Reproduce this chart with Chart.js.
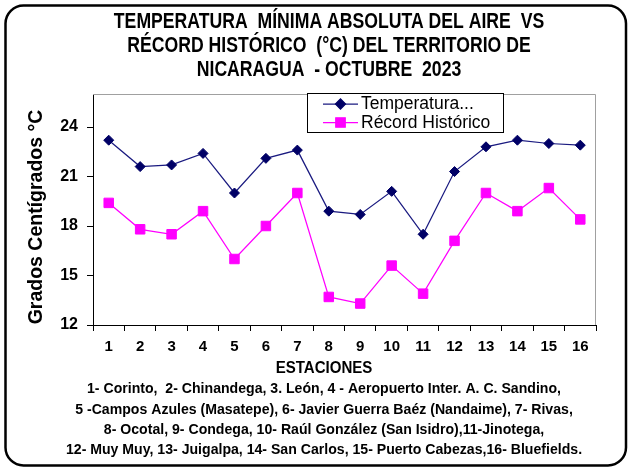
<!DOCTYPE html>
<html>
<head>
<meta charset="utf-8">
<script src="https://cdn.jsdelivr.net/npm/chart.js@4.4.0/dist/chart.umd.min.js"></script>
<style>
  body { margin: 0; background: #fff; }
  canvas { display: block; }
</style>
</head>
<body>
<canvas id="myChart" width="631" height="468"></canvas>
<script>
var estaciones = ["1", "2", "3", "4", "5", "6", "7", "8", "9", "10", "11", "12", "13", "14", "15", "16"];
var temperatura = [23.2, 21.6, 21.7, 22.4, 20.0, 22.1, 22.6, 18.9, 18.7, 20.1, 17.5, 21.3, 22.8, 23.2, 23.0, 22.9];
var record = [19.4, 17.8, 17.5, 18.9, 16.0, 18.0, 20.0, 13.7, 13.3, 15.6, 13.9, 17.1, 20.0, 18.9, 20.3, 18.4];
var yTicks = [12, 15, 18, 21, 24];

var titulo = [
  "TEMPERATURA  MÍNIMA ABSOLUTA DEL AIRE  VS",
  "RÉCORD HISTÓRICO  (°C) DEL TERRITORIO DE",
  "NICARAGUA  - OCTUBRE  2023"
];
var ejeX = "ESTACIONES";
var ejeY = "Grados Centígrados °C";
var notas = [
  "1- Corinto,  2- Chinandega, 3. León, 4 - Aeropuerto Inter. A. C. Sandino,",
  "5 -Campos Azules (Masatepe), 6- Javier Guerra Baéz (Nandaime), 7- Rivas,",
  "8- Ocotal, 9- Condega, 10- Raúl González (San Isidro),11-Jinotega,",
  "12- Muy Muy, 13- Juigalpa, 14- San Carlos, 15- Puerto Cabezas,16- Bluefields."
];

var ctx = document.getElementById("myChart");

// is there a narrow face? if not squeeze the regular one
var probe = ctx.getContext("2d");
probe.font = 'bold 20px "Liberation Sans Narrow", "Liberation Sans"';
var wNarrow = probe.measureText("TEMPERATURA").width;
probe.font = 'bold 20px "Liberation Sans"';
var wRegular = probe.measureText("TEMPERATURA").width;
var hasNarrow = wNarrow < wRegular * 0.95;
var narrowFam = hasNarrow ? '"Liberation Sans Narrow", "Liberation Sans", Arial' : '"Liberation Sans", Arial';
var squeeze = hasNarrow ? 1 : 0.82;
var squeeze2 = hasNarrow ? 1.1 : 0.94;

function texto(c, s, x, y, font, sq) {
  c.save();
  c.font = font;
  c.translate(x, y);
  c.scale(sq, 1);
  c.fillText(s, 0, 0);
  c.restore();
}

var marco = {
  id: "marco",
  beforeDraw: function (chart) {
    var c = chart.ctx;
    c.save();
    c.fillStyle = "#fff";
    c.fillRect(0, 0, chart.width, chart.height);
    c.strokeStyle = "#000";
    c.lineWidth = 2.5;
    c.beginPath();
    c.roundRect(5.5, 5.5, 620.5, 460, 18);
    c.stroke();
    c.restore();
  },
  beforeDatasetsDraw: function (chart) {
    var a = chart.chartArea, c = chart.ctx;
    c.save();
    c.strokeStyle = "#a0a0a0";
    c.lineWidth = 1;
    c.beginPath();
    c.moveTo(a.left, a.top + 0.5);
    c.lineTo(a.right - 0.5, a.top + 0.5);
    c.lineTo(a.right - 0.5, a.bottom);
    c.stroke();
    c.restore();
  },
  afterDraw: function (chart) {
    var c = chart.ctx;
    c.save();
    c.fillStyle = "#000";
    c.textAlign = "center";
    c.textBaseline = "middle";

    // title
    var ty = [22, 46.5, 70.5];
    titulo.forEach(function (s, i) {
      texto(c, s, 329, ty[i], "bold 21.5px " + narrowFam, squeeze);
    });

    // axis titles
    texto(c, ejeX, 324, 369, "bold 16px " + narrowFam, squeeze2);
    c.save();
    c.translate(37, 217);
    c.rotate(-Math.PI / 2);
    c.font = 'bold 19.5px "Liberation Sans", Arial';
    c.fillText(ejeY, 0, 0);
    c.restore();

    // station list
    var ny = [389, 409.5, 430, 450];
    notas.forEach(function (s, i) {
      texto(c, s, 324, ny[i], "bold 15px " + narrowFam, squeeze2);
    });

    // legend
    var lx = 307.5, ly = 93.5, lw = 196, lh = 39;
    c.fillStyle = "#fff";
    c.fillRect(lx, ly, lw, lh);
    c.strokeStyle = "#000";
    c.lineWidth = 1;
    c.strokeRect(lx, ly, lw, lh);
    var rows = [104, 122.5];
    c.textAlign = "left";
    chart.data.datasets.forEach(function (ds, i) {
      var y = rows[i];
      c.strokeStyle = ds.borderColor;
      c.lineWidth = ds.borderWidth;
      c.beginPath();
      c.moveTo(323, y);
      c.lineTo(358, y);
      c.stroke();
      c.fillStyle = ds.pointBackgroundColor;
      c.strokeStyle = ds.pointBorderColor;
      Chart.helpers.drawPoint(c, {
        pointStyle: ds.pointStyle,
        rotation: 0,
        radius: ds.pointRadius,
        borderWidth: 1
      }, 340.5, y);
      c.fillStyle = "#000";
      c.font = '17.5px "Liberation Sans", Arial';
      c.fillText(ds.label, 361, y + 0.5);
    });
    c.restore();
  }
};

var myChart = new Chart(ctx, {
  type: "line",
  data: {
    labels: estaciones,
    datasets: [{
      label: "Temperatura...",
      data: temperatura,
      borderColor: "#1a1a80",
      backgroundColor: "#000066",
      borderWidth: 1.25,
      pointStyle: "rectRot",
      pointRadius: 5,
      pointBackgroundColor: "#000066",
      pointBorderColor: "#000066",
      pointBorderWidth: 1,
      tension: 0
    }, {
      label: "Récord Histórico",
      data: record,
      borderColor: "#ff00ff",
      backgroundColor: "#ff00ff",
      borderWidth: 1.25,
      pointStyle: "rect",
      pointRadius: 6.7,
      pointBackgroundColor: "#ff00ff",
      pointBorderColor: "#ff00ff",
      pointBorderWidth: 1,
      tension: 0
    }]
  },
  options: {
    responsive: false,
    animation: false,
    layout: {
      padding: { top: 94, right: 35, bottom: 113, left: 0 }
    },
    plugins: {
      legend: { display: false },
      title: { display: false },
      tooltip: { enabled: false }
    },
    scales: {
      x: {
        offset: true,
        grid: { offset: true, drawOnChartArea: false, drawTicks: true, tickLength: 6, color: "#000" },
        border: { color: "#000", width: 1 },
        ticks: {
          color: "#000",
          font: { family: '"Liberation Sans", Arial', size: 15, weight: "bold" },
          padding: 7,
          maxRotation: 0,
          autoSkip: false
        },
        afterFit: function (s) { s.height = 30; }
      },
      y: {
        min: 12,
        max: 26,
        grid: { drawOnChartArea: false, drawTicks: true, tickLength: 6, color: "#000" },
        border: { color: "#000", width: 1 },
        ticks: {
          color: "#000",
          font: { family: '"Liberation Sans", Arial', size: 16, weight: "bold" },
          padding: 9
        },
        afterBuildTicks: function (s) {
          s.ticks = yTicks.map(function (v) { return { value: v }; });
        },
        afterFit: function (s) { s.width = 93; }
      }
    }
  },
  plugins: [marco]
});
</script>
</body>
</html>
